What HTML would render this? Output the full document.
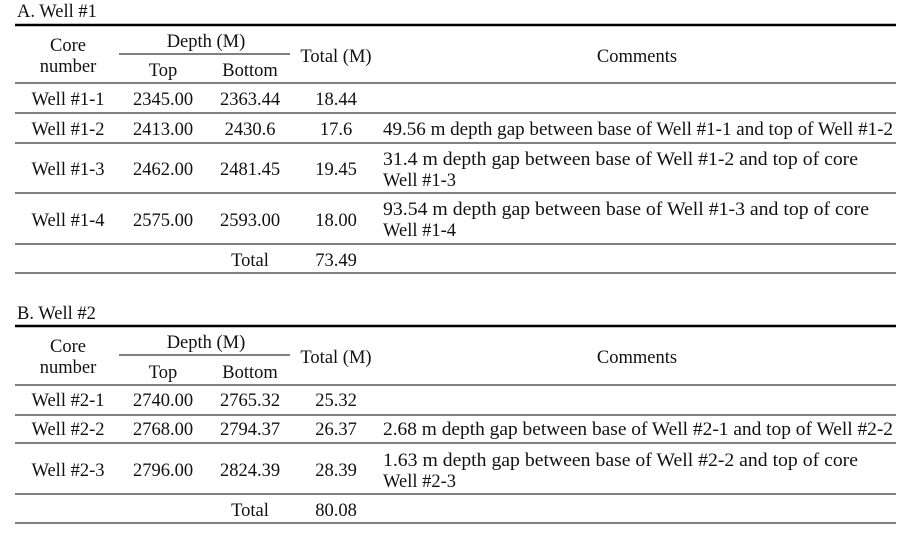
<!DOCTYPE html>
<html><head><meta charset="utf-8"><style>
html,body{margin:0;padding:0;background:#fff;}
svg{display:block;}
text{font-family:"Liberation Serif",serif;font-size:18.5px;fill:#111;}
</style></head><body>
<svg width="906" height="535" viewBox="0 0 906 535">
<g>
<text x="17" y="17">A. Well #1</text>
<line x1="15" y1="25" x2="896" y2="25" stroke="#000" stroke-width="2.5"/>
<line x1="119" y1="54" x2="290" y2="54" stroke="#000" stroke-width="1"/>
<line x1="15" y1="83" x2="896" y2="83" stroke="#000" stroke-width="1"/>
<line x1="15" y1="113" x2="896" y2="113" stroke="#000" stroke-width="1"/>
<line x1="15" y1="143" x2="896" y2="143" stroke="#000" stroke-width="1"/>
<line x1="15" y1="193" x2="896" y2="193" stroke="#000" stroke-width="1"/>
<line x1="15" y1="244" x2="896" y2="244" stroke="#000" stroke-width="1"/>
<line x1="15" y1="273" x2="896" y2="273" stroke="#000" stroke-width="1"/>
<g text-anchor="middle">
<text x="68" y="51">Core</text><text x="68" y="72">number</text>
<text x="206" y="47">Depth (M)</text>
<text x="163" y="76">Top</text><text x="250" y="76">Bottom</text>
<text x="336" y="62">Total (M)</text>
<text x="637" y="62">Comments</text>
</g>
<g>
<g text-anchor="middle">
<text x="68" y="105">Well #1-1</text><text x="163" y="105">2345.00</text><text x="250" y="105">2363.44</text><text x="336" y="105">18.44</text>
<text x="68" y="135">Well #1-2</text><text x="163" y="135">2413.00</text><text x="250" y="135">2430.6</text><text x="336" y="135">17.6</text>
<text x="68" y="175">Well #1-3</text><text x="163" y="175">2462.00</text><text x="250" y="175">2481.45</text><text x="336" y="175">19.45</text>
<text x="68" y="226">Well #1-4</text><text x="163" y="226">2575.00</text><text x="250" y="226">2593.00</text><text x="336" y="226">18.00</text>
<text x="250" y="266">Total</text><text x="336" y="266">73.49</text>
</g>
<text x="383" y="135" textLength="510" lengthAdjust="spacingAndGlyphs">49.56 m depth gap between base of Well #1-1 and top of Well #1-2</text>
<text x="383" y="165" textLength="475" lengthAdjust="spacingAndGlyphs">31.4 m depth gap between base of Well #1-2 and top of core</text>
<text x="383" y="186">Well #1-3</text>
<text x="383" y="215" textLength="486" lengthAdjust="spacingAndGlyphs">93.54 m depth gap between base of Well #1-3 and top of core</text>
<text x="383" y="236">Well #1-4</text>
</g>
</g>
<g>
<text x="17" y="319">B. Well #2</text>
<line x1="15" y1="326" x2="896" y2="326" stroke="#000" stroke-width="2.5"/>
<line x1="119" y1="355" x2="290" y2="355" stroke="#000" stroke-width="1"/>
<line x1="15" y1="385" x2="896" y2="385" stroke="#000" stroke-width="1"/>
<line x1="15" y1="415" x2="896" y2="415" stroke="#000" stroke-width="1"/>
<line x1="15" y1="443" x2="896" y2="443" stroke="#000" stroke-width="1"/>
<line x1="15" y1="494" x2="896" y2="494" stroke="#000" stroke-width="1"/>
<line x1="15" y1="523" x2="896" y2="523" stroke="#000" stroke-width="1"/>
<g text-anchor="middle">
<text x="68" y="352">Core</text><text x="68" y="373">number</text>
<text x="206" y="348">Depth (M)</text>
<text x="163" y="378">Top</text><text x="250" y="378">Bottom</text>
<text x="336" y="363">Total (M)</text>
<text x="637" y="363">Comments</text>
</g>
<g>
<g text-anchor="middle">
<text x="68" y="406">Well #2-1</text><text x="163" y="406">2740.00</text><text x="250" y="406">2765.32</text><text x="336" y="406">25.32</text>
<text x="68" y="435">Well #2-2</text><text x="163" y="435">2768.00</text><text x="250" y="435">2794.37</text><text x="336" y="435">26.37</text>
<text x="68" y="476">Well #2-3</text><text x="163" y="476">2796.00</text><text x="250" y="476">2824.39</text><text x="336" y="476">28.39</text>
<text x="250" y="516">Total</text><text x="336" y="516">80.08</text>
</g>
<text x="383" y="435" textLength="510" lengthAdjust="spacingAndGlyphs">2.68 m depth gap between base of Well #2-1 and top of Well #2-2</text>
<text x="383" y="466" textLength="475" lengthAdjust="spacingAndGlyphs">1.63 m depth gap between base of Well #2-2 and top of core</text>
<text x="383" y="487">Well #2-3</text>
</g>
</g>
</svg>
</body></html>
